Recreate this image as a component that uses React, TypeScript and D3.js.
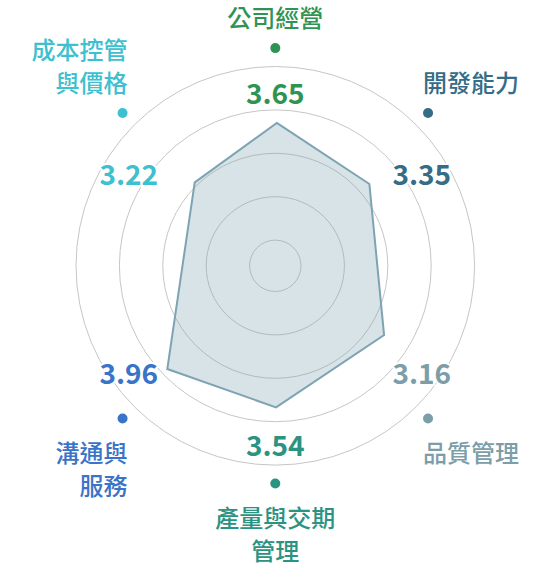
import React from "react";
import * as d3 from "d3";

// ---- data ----
const categories: string[][] = [
  ["公司經營"],
  ["開發能力"],
  ["品質管理"],
  ["產量與交期", "管理"],
  ["溝通與", "服務"],
  ["成本控管", "與價格"],
];
const scoreLabels = [3.65, 3.35, 3.16, 3.54, 3.96, 3.22];
const axisColors = ["#2f9453", "#356c87", "#7b9ea8", "#2b9381", "#3a74c8", "#3dc0cf"];
// axis directions (degrees clockwise from up) for the dots/labels
const axisAngles = [0, 45, 135, 180, 225, 315];
// polygon as drawn in the picture (values on the grid scale, vertex directions)
const shapeValues = [3.7, 3.28, 3.38, 3.67, 3.85, 3.08];
const shapeAngles = [0.6, 49, 122.5, 179.7, 226.3, 316];
const gridLevels = [1, 2, 3, 4, 5];

const W = 550;
const H = 566;
const cx = 275.3;
const cy = 265.8;

export default function App() {
  const r = d3.scaleLinear().domain([1, 5]).range([25.7, 199.3]);
  const toRad = (deg: number) => (deg * Math.PI) / 180;
  const pt = (deg: number, rad: number): [number, number] => [
    cx + rad * Math.sin(toRad(deg)),
    cy - rad * Math.cos(toRad(deg)),
  ];

  const polyPoints: [number, number][] = shapeValues.map((v, i) => pt(shapeAngles[i], r(v)));
  const poly = d3.line().curve(d3.curveLinearClosed)(polyPoints) || "";

  const font = "'Noto Sans CJK TC', 'Noto Sans', sans-serif";
  const dotR = 216;

  return (
    <svg width={W} height={H} style={{ position: "absolute", left: 0, top: 0 }}>
      <rect width={W} height={H} fill="#fff" />
      {gridLevels.map((g) => (
        <circle key={g} cx={cx} cy={cy} r={r(g)} fill="none" stroke="#c6c6c6" strokeWidth={1} />
      ))}
      <path d={poly} fill="#7ea3b3" fillOpacity={0.3} stroke="#7ea3b3" strokeWidth={2} strokeLinejoin="miter" />
      {axisAngles.map((a, i) => {
        const [dx, dy] = pt(a, a === 0 || a === 180 ? 217.7 : dotR);
        const s = Math.sin(toRad(a));
        const c = Math.cos(toRad(a));
        const side = Math.abs(s) < 0.01 ? 0 : s > 0 ? 1 : -1;
        const up = c > 0;
        // value label position
        let vx = cx;
        let vy = cy;
        if (side === 0) {
          vy = up ? cy - 162 : cy + 190;
        } else {
          vx = cx + side * 146.5;
          vy = up ? cy - 81 : cy + 118;
        }
        // category label position
        const lines = categories[i];
        let tx = cx;
        let ty0 = 0;
        let anchor: "start" | "middle" | "end" = "middle";
        if (side === 0) {
          ty0 = up ? 27 - (lines.length - 1) * 33 : dy + 43;
        } else {
          anchor = side > 0 ? "start" : "end";
          tx = side > 0 ? dx - 5 : dx + 5;
          ty0 = up ? dy - 21 - (lines.length - 1) * 33 : dy + 43;
        }
        return (
          <g key={i}>
            <circle cx={dx} cy={dy} r={5} fill={axisColors[i]} />
            <text
              x={vx}
              y={vy}
              textAnchor="middle"
              fontFamily={font}
              fontWeight={700}
              fontSize={28}
              fill={axisColors[i]}
              stroke="#fff"
              strokeWidth={4}
              paintOrder="stroke"
            >
              {scoreLabels[i].toFixed(2)}
            </text>
            {lines.map((ln, j) => (
              <text
                key={j}
                x={tx}
                y={ty0 + j * 33}
                textAnchor={anchor}
                fontFamily={font}
                fontWeight={500}
                fontSize={24}
                fill={axisColors[i]}
              >
                {ln}
              </text>
            ))}
          </g>
        );
      })}
    </svg>
  );
}
